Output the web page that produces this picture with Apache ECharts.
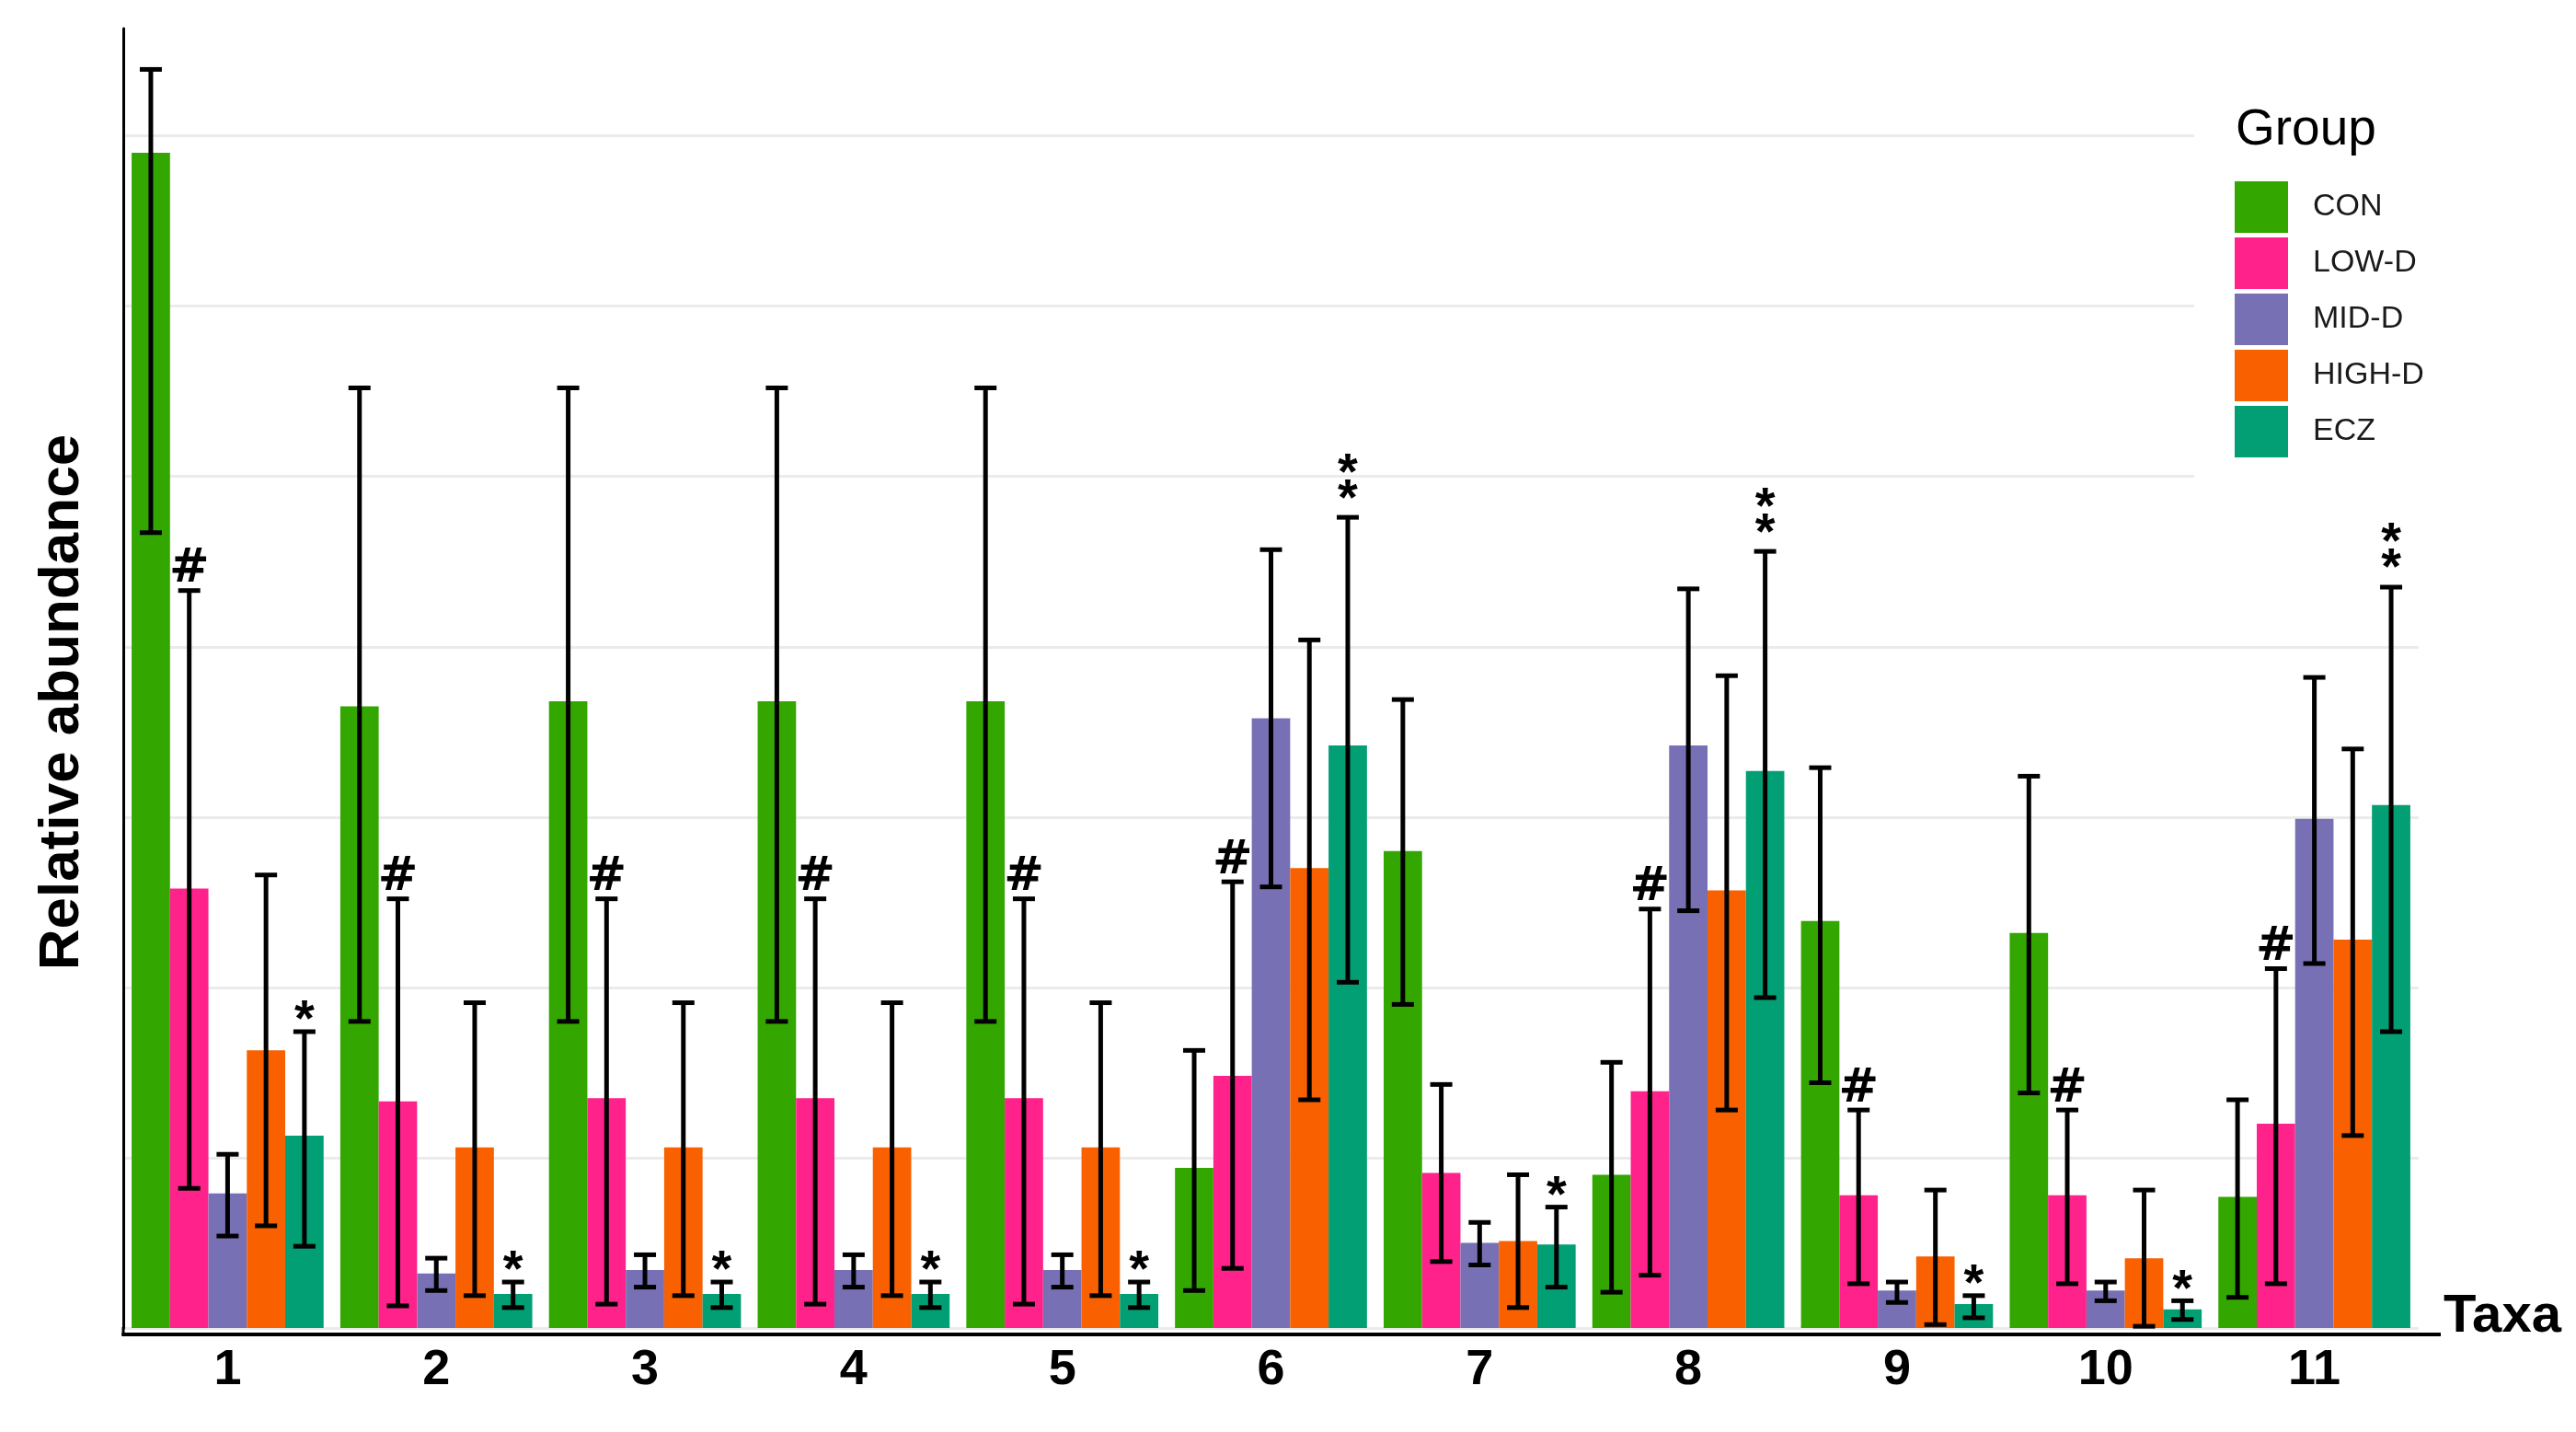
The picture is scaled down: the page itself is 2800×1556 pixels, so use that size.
<!DOCTYPE html>
<html>
<head>
<meta charset="utf-8">
<script src="https://cdn.jsdelivr.net/npm/echarts@6/dist/echarts.min.js"></script>
<style>html,body{margin:0;padding:0;background:#fff;}#c{width:2800px;height:1556px;}</style>
</head>
<body>
<div id="c"></div>
<script>
const categories = ['1','2','3','4','5','6','7','8','9','10','11'];
const groups = ['CON','LOW-D','MID-D','HIGH-D','ECZ'];
const colors = ['#33a700','#ff228b','#7770b5','#f86000','#029e74'];

const conMean  = [6.90,3.65,3.68,3.68,3.68,0.94,2.80,0.90,2.39,2.32,0.77];
const conLow   = [4.67,1.80,1.80,1.80,1.80,0.22,1.90,0.21,1.44,1.38,0.18];
const conHigh  = [7.39,5.52,5.52,5.52,5.52,1.63,3.69,1.56,3.29,3.24,1.34];
const lowMean  = [2.58,1.33,1.35,1.35,1.35,1.48,0.91,1.39,0.78,0.78,1.20];
const lowLow   = [0.82,0.13,0.14,0.14,0.14,0.35,0.39,0.31,0.26,0.26,0.26];
const lowHigh  = [4.33,2.52,2.52,2.52,2.52,2.62,1.43,2.46,1.28,1.28,2.11];
const midMean  = [0.79,0.32,0.34,0.34,0.34,3.58,0.50,3.42,0.22,0.22,2.99];
const midLow   = [0.54,0.22,0.24,0.24,0.24,2.59,0.37,2.45,0.15,0.16,2.14];
const midHigh  = [1.02,0.41,0.43,0.43,0.43,4.57,0.62,4.34,0.27,0.27,3.82];
const highMean = [1.63,1.06,1.06,1.06,1.06,2.70,0.51,2.57,0.42,0.41,2.28];
const highLow  = [0.60,0.19,0.19,0.19,0.19,1.34,0.12,1.28,0.02,0.01,1.13];
const highHigh = [2.66,1.91,1.91,1.91,1.91,4.04,0.90,3.83,0.81,0.81,3.40];
const eczMean  = [1.13,0.20,0.20,0.20,0.20,3.42,0.49,3.27,0.14,0.11,3.07];
const eczLow   = [0.48,0.12,0.12,0.12,0.12,2.03,0.24,1.94,0.06,0.05,1.74];
const eczHigh  = [1.74,0.27,0.27,0.27,0.27,4.76,0.71,4.56,0.19,0.16,4.35];
const noMarks   = ['','','','','','','','','','',''];
const lowMarks  = ['#','#','#','#','#','#','','#','#','#','#'];
const eczMarks  = ['*','*','*','*','*','**','*','**','*','*','**'];

const means = [conMean, lowMean, midMean, highMean, eczMean];
const lows  = [conLow, lowLow, midLow, highLow, eczLow];
const highs = [conHigh, lowHigh, midHigh, highHigh, eczHigh];
const marks = [noMarks, lowMarks, noMarks, noMarks, eczMarks];

const FONT = '"Liberation Sans", Arial, sans-serif';
const GAP = 0.08;

const barSeries = groups.map((g, gi) => ({
  name: g,
  type: 'bar',
  data: means[gi],
  barGap: 0,
  barCategoryGap: (GAP * 100) + '%',
  itemStyle: { color: colors[gi] },
  z: 2
}));

const errSeries = groups.map((g, gi) => ({
  name: g + ' err',
  type: 'custom',
  z: 5,
  data: categories.map((c, i) => [i, lows[gi][i], highs[gi][i]]),
  renderItem: function (params, api) {
    const idx = api.value(0);
    const band = api.size([1, 0])[0];
    const bw = band * (1 - GAP) / 5;
    const cx = api.coord([idx, 0])[0] + (gi - 2) * bw;
    const yl = api.coord([idx, api.value(1)])[1];
    const yh = api.coord([idx, api.value(2)])[1];
    const cap = 12;
    const st = { stroke: '#000', lineWidth: 5 };
    const children = [
      { type: 'line', shape: { x1: cx, y1: yh, x2: cx, y2: yl }, style: st },
      { type: 'line', shape: { x1: cx - cap, y1: yh, x2: cx + cap, y2: yh }, style: st },
      { type: 'line', shape: { x1: cx - cap, y1: yl, x2: cx + cap, y2: yl }, style: st }
    ];
    const m = marks[gi][params.dataIndex];
    if (m === '#') {
      children.push({ type: 'text', style: { text: '#', x: cx, y: yh - 23, align: 'center', verticalAlign: 'middle', font: 'bold 52px "DejaVu Sans", sans-serif', fill: '#000' } });
    } else if (m === '*') {
      children.push({ type: 'text', style: { text: '*', x: cx, y: yh - 22 + 11, align: 'center', verticalAlign: 'middle', font: 'bold 56px ' + FONT, fill: '#000' } });
    } else if (m === '**') {
      children.push({ type: 'text', style: { text: '*', x: cx, y: yh - 30 + 11, align: 'center', verticalAlign: 'middle', font: 'bold 56px ' + FONT, fill: '#000' } });
      children.push({ type: 'text', style: { text: '*', x: cx, y: yh - 58 + 11, align: 'center', verticalAlign: 'middle', font: 'bold 56px ' + FONT, fill: '#000' } });
    }
    return { type: 'group', children: children };
  }
}));

const chart = echarts.init(document.getElementById('c'), null, { renderer: 'canvas' });
chart.setOption({
  animation: false,
  backgroundColor: '#fff',
  grid: { left: 134, right: 171, top: 31, bottom: 113, containLabel: false },
  legend: {
    data: groups,
    orient: 'vertical',
    left: 2385,
    top: 100,
    padding: [97, 170, 60, 44],
    backgroundColor: '#fff',
    icon: 'rect',
    itemWidth: 58,
    itemHeight: 56,
    itemGap: 5,
    selectedMode: false,
    textStyle: { fontSize: 34, color: '#1a1a1a', fontFamily: FONT, padding: [8, 0, 0, 22] }
  },
  xAxis: {
    type: 'category',
    data: categories,
    offset: 7,
    axisLine: { show: true, onZero: false, lineStyle: { color: '#000', width: 4 } },
    axisTick: { show: false },
    axisLabel: { fontSize: 54, fontWeight: 'bold', color: '#000', fontFamily: FONT, margin: 12 },
    splitLine: { show: false }
  },
  yAxis: {
    type: 'value',
    min: 0,
    max: 7.63,
    interval: 1,
    axisLine: { show: true, lineStyle: { color: '#000', width: 3 } },
    axisTick: { show: false },
    axisLabel: { show: false },
    splitLine: { show: true, lineStyle: { color: ['#ebebeb','#ebebeb','#ebebeb','#ebebeb','#ebebeb','#ebebeb','#ebebeb','#ebebeb','rgba(0,0,0,0)'], width: 3 } }
  },
  graphic: [
    { type: 'line', z: 10, shape: { x1: 134, y1: 1442, x2: 134, y2: 1452 }, style: { stroke: '#000', lineWidth: 3 } },
    { type: 'line', z: 10, shape: { x1: 2627, y1: 1450, x2: 2653, y2: 1450 }, style: { stroke: '#000', lineWidth: 4 } },
    { type: 'text', z: 10, x: 68, y: 763, rotation: Math.PI / 2,
      style: { text: 'Relative abundance', align: 'center', verticalAlign: 'middle', font: 'bold 62px ' + FONT, fill: '#000' } },
    { type: 'text', z: 10, x: 2656, y: 1402,
      style: { text: 'Taxa', align: 'left', verticalAlign: 'top', font: 'bold 58px ' + FONT, fill: '#000' } },
    { type: 'text', z: 10, x: 2430, y: 114,
      style: { text: 'Group', align: 'left', verticalAlign: 'top', font: '55px ' + FONT, fill: '#000' } }
  ],
  series: barSeries.concat(errSeries)
});
</script>
</body>
</html>
